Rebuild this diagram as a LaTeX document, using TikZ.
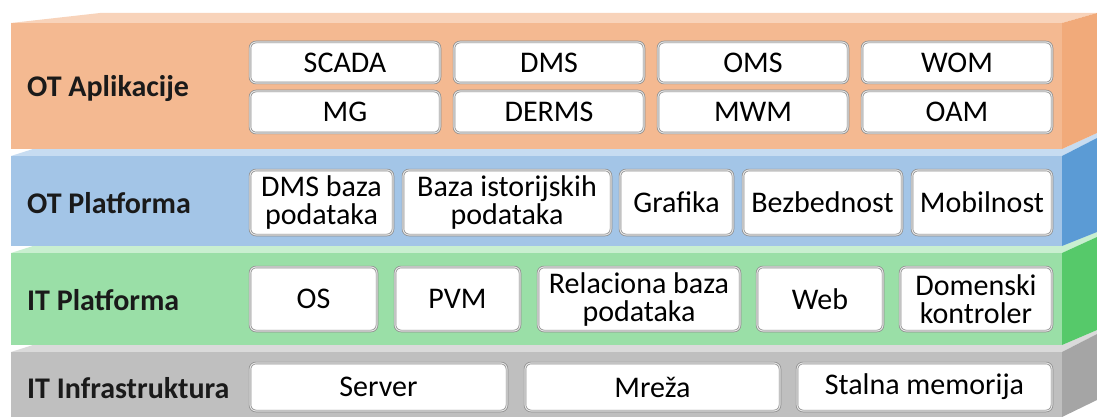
\documentclass[tikz,border=0pt]{standalone}
\usepackage{fontspec}
\setmainfont{Carlito}
\definecolor{orFront}{HTML}{F4B991}
\definecolor{orTop}{HTML}{F8D3BA}
\definecolor{orSide}{HTML}{F1AA7A}
\definecolor{blFront}{HTML}{A3C5E7}
\definecolor{blTop}{HTML}{C7DCF1}
\definecolor{blSide}{HTML}{5B9BD5}
\definecolor{grFront}{HTML}{9ADFA7}
\definecolor{grTop}{HTML}{C9EFD0}
\definecolor{grSide}{HTML}{56C96A}
\definecolor{gyFront}{HTML}{BFBFBF}
\definecolor{gyTop}{HTML}{DADADA}
\definecolor{gySide}{HTML}{A5A5A5}
\definecolor{boxEdge}{HTML}{8C8C8C}
\definecolor{boxRim}{HTML}{E2E2E2}
\definecolor{labelInk}{HTML}{1A1A1A}
\tikzset{
  itembox/.style={draw=boxEdge, double=boxRim, line width=0.7pt, double distance=1.1pt,
    fill=white, rounded corners=6pt, inner sep=0pt, align=center,
    font=\fontsize{30}{28}\selectfont, text=black},
  layerlabel/.style={anchor=west, inner sep=0pt, text=labelInk,
    font=\bfseries\fontsize{30}{32}\selectfont}
}
\newcommand{\itemat}[7]{% name, x0, x1, y0, y1, text
  \node[itembox, minimum width={#3-#2}, minimum height={#5-#4}] (#1) at ({(#2+#3)/2},{(#4+#5)/2}) {#6#7};}
\begin{document}
\begin{tikzpicture}[x=1pt,y=-1pt]
\useasboundingbox (0,0) rectangle (1097,417);
\fill[white] (0,0) rectangle (1097,417);

% ---- IT Infrastruktura slab
\fill[gyTop] (11,352) -- (33,345) -- (1062,345) -- (1097,330) -- (1097,334) -- (1062,352) -- cycle;
\fill[gyFront] (11,352) rectangle (1062,417);
\fill[gySide] (1062,352) -- (1097,334) -- (1097,400) -- (1062,417) -- cycle;

% ---- IT Platforma slab
\fill[grTop] (11,253) -- (33,246) -- (1062,246) -- (1097,232) -- (1097,237) -- (1062,253) -- cycle;
\fill[grFront] (11,253) rectangle (1062,345);
\fill[grSide] (1062,253) -- (1097,237) -- (1097,330) -- (1062,345) -- cycle;

% ---- OT Platforma slab
\fill[blTop] (11,156) -- (33,149) -- (1062,149) -- (1097,133) -- (1097,138) -- (1062,156) -- cycle;
\fill[blFront] (11,156) rectangle (1062,246);
\fill[blSide] (1062,156) -- (1097,138) -- (1097,232) -- (1062,246) -- cycle;

% ---- OT Aplikacije slab
\fill[orTop] (11,23) -- (100,13) -- (1097,13) -- (1062,23) -- cycle;
\fill[orFront] (11,23) rectangle (1062,149);
\fill[orSide] (1062,23) -- (1097,13) -- (1097,133) -- (1062,149) -- cycle;

% ---- layer titles
\node[layerlabel] (lblA) at (27,89)  {OT Aplikacije};
\node[layerlabel] (lblB) at (27,203) {OT Platforma};
\node[layerlabel] (lblC) at (27,300) {IT Platforma};
\node[layerlabel] (lblD) at (27,388) {IT Infrastruktura};

% ---- OT applications (two rows of four)
\itemat{scada}{250}{440}{42}{83}{SCADA}{}
\itemat{dms}{454}{644}{42}{83}{DMS}{}
\itemat{oms}{658}{848}{42}{83}{OMS}{}
\itemat{wom}{862}{1052}{42}{83}{WOM}{}
\itemat{mg}{250}{440}{91}{133}{MG}{}
\itemat{derms}{454}{644}{91}{133}{DERMS}{}
\itemat{mwm}{658}{848}{91}{133}{MWM}{}
\itemat{oam}{862}{1052}{91}{133}{OAM}{}

% ---- OT platform
\itemat{dmsdb}{250}{393}{170}{235}{DMS baza\\}{podataka}
\itemat{histdb}{403}{611}{170}{235}{Baza istorijskih\\}{podataka}
\itemat{graf}{620}{733}{170}{235}{Grafika}{}
\itemat{sec}{743}{902}{170}{235}{Bezbednost}{}
\itemat{mob}{912}{1052}{170}{235}{Mobilnost}{}

% ---- IT platform
\itemat{os}{250}{377}{267}{331}{OS}{}
\itemat{pvm}{395}{520}{267}{331}{PVM}{}
\itemat{reldb}{538}{740}{267}{331}{Relaciona baza\\}{podataka}
\itemat{web}{757}{883}{267}{331}{Web}{}
\itemat{dc}{900}{1052}{267}{331}{Domenski\\}{kontroler}

% ---- IT infrastructure
\itemat{srv}{250}{507}{363}{411}{Server}{}
\itemat{net}{525}{780}{363}{411}{Mreža}{}
\itemat{stor}{797}{1052}{363}{411}{Stalna memorija}{}
\end{tikzpicture}
\end{document}
